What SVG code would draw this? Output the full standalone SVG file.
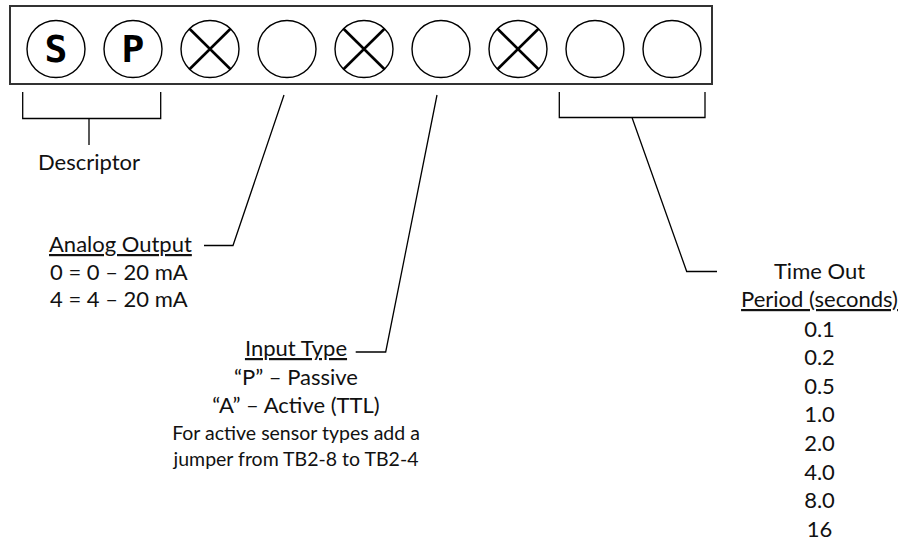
<svg xmlns="http://www.w3.org/2000/svg" width="904" height="542" viewBox="0 0 904 542">
<style>
.t{font-family:Lato,"Open Sans","Liberation Sans",sans-serif;font-size:22px;fill:#111}
.s{font-size:19.5px}
.u{text-decoration:underline}
.m{text-anchor:middle}
.c{fill:#fff;stroke:#000;stroke-width:1.4}
.x{stroke:#000;stroke-width:2.6;fill:none}
.ln{stroke:#000;stroke-width:1.3;fill:none}
.g{font-family:"DejaVu Sans Mono","DejaVu Sans",monospace;font-weight:bold;font-size:38px;text-anchor:middle;fill:#000}
</style>
<g id="panel">
<rect x="10" y="6" width="702" height="78" fill="#fff" stroke="#333" stroke-width="2"/>
</g>
<g id="led-s"><ellipse class="c" cx="56" cy="49" rx="29" ry="28.5"/><text class="g" x="56" y="62">S</text></g>
<g id="led-p"><ellipse class="c" cx="133" cy="49" rx="29" ry="28.5"/><text class="g" x="133" y="62">P</text></g>
<g id="led-3"><ellipse class="c" cx="210" cy="49" rx="29" ry="28.5"/><path class="x" d="M189.5,28.8 L230.5,69.2 M230.5,28.8 L189.5,69.2"/></g>
<g id="led-4"><ellipse class="c" cx="287" cy="49" rx="29" ry="28.5"/></g>
<g id="led-5"><ellipse class="c" cx="364" cy="49" rx="29" ry="28.5"/><path class="x" d="M343.5,28.8 L384.5,69.2 M384.5,28.8 L343.5,69.2"/></g>
<g id="led-6"><ellipse class="c" cx="441" cy="49" rx="29" ry="28.5"/></g>
<g id="led-7"><ellipse class="c" cx="518" cy="49" rx="29" ry="28.5"/><path class="x" d="M497.5,28.8 L538.5,69.2 M538.5,28.8 L497.5,69.2"/></g>
<g id="led-8"><ellipse class="c" cx="595" cy="49" rx="29" ry="28.5"/></g>
<g id="led-9"><ellipse class="c" cx="672" cy="49" rx="29" ry="28.5"/></g>
<g id="connectors">
<path class="ln" d="M22.7,92 V118.5 H160.7 V92 M89,118.5 V145"/>
<path class="ln" d="M559.3,92 V117.5 H705 V92 M632,117.5 L686.7,271.5 H717"/>
<path class="ln" d="M284,95 L233,245.5 H204"/>
<path class="ln" d="M437,95 L385.7,352 H355.7"/>
</g>
<g id="descriptor"><text class="t m" x="89" y="170">Descriptor</text></g>
<g id="analog-output">
<text class="t u" x="49" y="252">Analog Output</text>
<text class="t" x="50" y="279.5">0 = 0 – 20 mA</text>
<text class="t" x="50" y="307">4 = 4 – 20 mA</text>
</g>
<g id="input-type">
<text class="t m u" x="296" y="356">Input Type</text>
<text class="t m" x="296" y="385">“P” – Passive</text>
<text class="t m" x="296" y="413">“A” – Active (TTL)</text>
<text class="t s m" x="296" y="440">For active sensor types add a</text>
<text class="t s m" x="296" y="466">jumper from TB2-8 to TB2-4</text>
</g>
<g id="time-out">
<text class="t m" x="819.5" y="279">Time Out</text>
<text class="t m u" x="819.5" y="307">Period (seconds)</text>
<text class="t m" x="819.5" y="337">0.1</text>
<text class="t m" x="819.5" y="365">0.2</text>
<text class="t m" x="819.5" y="394">0.5</text>
<text class="t m" x="819.5" y="422">1.0</text>
<text class="t m" x="819.5" y="451">2.0</text>
<text class="t m" x="819.5" y="480">4.0</text>
<text class="t m" x="819.5" y="508">8.0</text>
<text class="t m" x="819.5" y="537">16</text>
</g>
</svg>
